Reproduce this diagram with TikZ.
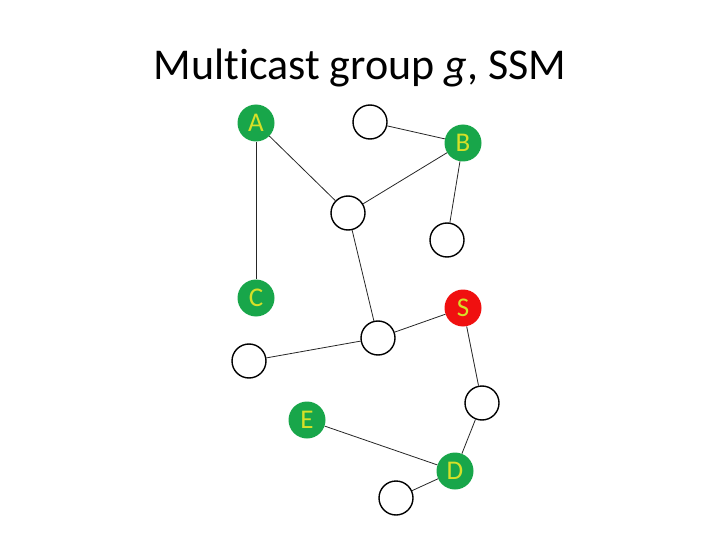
\documentclass[tikz,border=0pt]{standalone}
\usepackage{fontspec}
\setmainfont[Ligatures={NoCommon}]{Carlito}
\definecolor{grpgreen}{RGB}{24,166,74}
\definecolor{srcred}{RGB}{240,16,16}
\definecolor{lblyellow}{RGB}{214,224,40}

\begin{document}
\begin{tikzpicture}[
  x=1pt, y=-1pt,
  router/.style={circle, draw=black, line width=1.4pt, fill=white,
                 minimum size=34pt, inner sep=0pt},
  member/.style={circle, fill=grpgreen, minimum size=37pt, inner sep=0pt,
                 text=lblyellow, font=\fontsize{27}{27}\selectfont},
  source/.style={member, fill=srcred},
  link/.style={line width=0.8pt, black!85},
]
  \useasboundingbox (0,0) rectangle (720,540);

  \node[font=\fontsize{44}{48}\selectfont, anchor=base] (title) at (360,80)
    {Multicast group \textit{g}, SSM};

  % members and source
  \node[member] (A) at (256,123) {A};
  \node[member] (B) at (463,143) {B};
  \node[member] (C) at (256,298) {C};
  \node[source] (S) at (463,308) {S};
  \node[member] (E) at (307,420) {E};
  \node[member] (D) at (455,471) {D};

  % plain routers
  \node[router] (r1) at (370,122) {};
  \node[router] (r2) at (348,213) {};
  \node[router] (r3) at (447,240) {};
  \node[router] (r4) at (378,338) {};
  \node[router] (r5) at (249,361) {};
  \node[router] (r6) at (482,403) {};
  \node[router] (r7) at (396,498) {};

  \draw[link] (A) -- (C);
  \draw[link] (A) -- (r2);
  \draw[link] (r1) -- (B);
  \draw[link] (B) -- (r2);
  \draw[link] (B) -- (r3);
  \draw[link] (r2) -- (r4);
  \draw[link] (r4) -- (S);
  \draw[link] (r4) -- (r5);
  \draw[link] (S) -- (r6);
  \draw[link] (r6) -- (D);
  \draw[link] (E) -- (D);
  \draw[link] (D) -- (r7);
\end{tikzpicture}
\end{document}
